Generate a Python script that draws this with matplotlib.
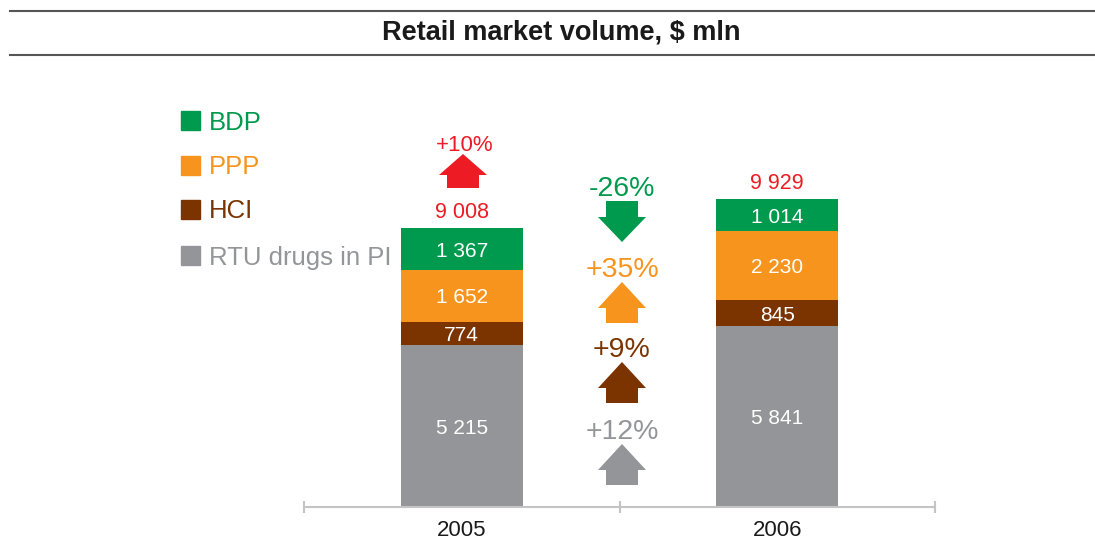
import matplotlib
matplotlib.use("Agg")
import matplotlib.pyplot as plt
from matplotlib.patches import Polygon, Rectangle

plt.rcParams['font.family'] = ['Liberation Sans', 'DejaVu Sans']

years = ['2005', '2006']
series = ['RTU drugs in PI', 'HCI', 'PPP', 'BDP']
rtu = [5215, 5841]
hci = [774, 845]
ppp = [1652, 2230]
bdp = [1367, 1014]
totals = [9008, 9929]

colors = {'RTU drugs in PI': '#939598', 'HCI': '#7b3300',
          'PPP': '#f7941d', 'BDP': '#009a4e'}
red = '#ed1c24'
values = {'RTU drugs in PI': rtu, 'HCI': hci, 'PPP': ppp, 'BDP': bdp}


def fmt(v):
    return f"{v:,}".replace(',', ' ')


W, H = 1095, 539
fig = plt.figure(figsize=(W / 100, H / 100), dpi=100)

# main bar axes
ax = fig.add_axes([304 / W, 32 / H, 631 / W, 402.6 / H])
x = list(range(len(years)))
bottom = [0, 0]
for s in series:
    v = values[s]
    ax.bar(x, v, width=0.387, bottom=bottom, color=colors[s])
    for i in x:
        ax.text(i, bottom[i] + v[i] / 2, fmt(v[i]), ha='center',
                va='center_baseline', color='white', fontsize=15)
    bottom = [b + vv for b, vv in zip(bottom, v)]

for i in x:
    ax.annotate(fmt(totals[i]), (i, bottom[i]), xytext=(0, 18),
                textcoords='offset pixels', ha='center', va='center_baseline',
                color=red, fontsize=15.5)

ax.set_xlim(-0.5, 1.5)
ax.set_ylim(0, 13000)
for sp in ['top', 'right', 'left']:
    ax.spines[sp].set_visible(False)
ax.spines['bottom'].set_color('#c4c4c4')
ax.spines['bottom'].set_linewidth(1.5)
ax.set_yticks([])
ax.set_xticks([-0.5, 0.5, 1.5])
ax.set_xticklabels([])
ax.tick_params(axis='x', which='major', direction='inout', length=9,
               width=1.5, color='#c4c4c4')
ax.set_xticks(x, minor=True)
ax.set_xticklabels(years, minor=True, fontsize=16, color='#1a1a1a')
ax.tick_params(axis='x', which='minor', length=0, pad=9)

# overlay in pixel coordinates for title, legend and arrows
ov = fig.add_axes([0, 0, 1, 1])
ov.set_xlim(0, W)
ov.set_ylim(H, 0)
ov.axis('off')

ov.plot([10, W], [11, 11], color='#555555', lw=1.5)
ov.plot([10, W], [55, 55], color='#555555', lw=1.5)
ov.text(561, 32, 'Retail market volume, $ mln', ha='center', va='center',
        fontsize=19.5, fontweight='bold', color='#1a1a1a')

# legend
leg_y = [255, 209, 165, 120]
for s, yy in zip(series, leg_y):
    ov.add_patch(Rectangle((181, yy - 9.5), 19, 19, color=colors[s]))
    ov.text(209, yy, s, ha='left', va='center_baseline', fontsize=18.5,
            color=colors[s])


def arrow(cx, top, bot, up, color, hw=48, bw=32, hh=24):
    if up:
        pts = [(cx, top), (cx + hw / 2, top + hh), (cx + bw / 2, top + hh),
               (cx + bw / 2, bot), (cx - bw / 2, bot), (cx - bw / 2, top + hh),
               (cx - hw / 2, top + hh)]
    else:
        pts = [(cx, bot), (cx + hw / 2, bot - hh), (cx + bw / 2, bot - hh),
               (cx + bw / 2, top), (cx - bw / 2, top), (cx - bw / 2, bot - hh),
               (cx - hw / 2, bot - hh)]
    ov.add_patch(Polygon(pts, closed=True, color=color, lw=0))


# change arrows between the two years
text_y = {'BDP': 186, 'PPP': 267, 'HCI': 347, 'RTU drugs in PI': 429}
for s in series:
    v = values[s]
    p = round((v[1] / v[0] - 1) * 100)
    ty = text_y[s]
    ov.text(622, ty, f"{p:+d}%", ha='center', va='center_baseline',
            fontsize=20.5, color=colors[s])
    arrow(622, ty + 15, ty + 56, p > 0, colors[s], hh=26 if p > 0 else 25)

pt = round((totals[1] / totals[0] - 1) * 100)
ov.text(465, 143, f"{pt:+d}%", ha='center', va='center_baseline', fontsize=16,
        color=red)
arrow(463, 154, 188, pt > 0, red, hh=21)

fig.savefig('out.png', dpi=100)
